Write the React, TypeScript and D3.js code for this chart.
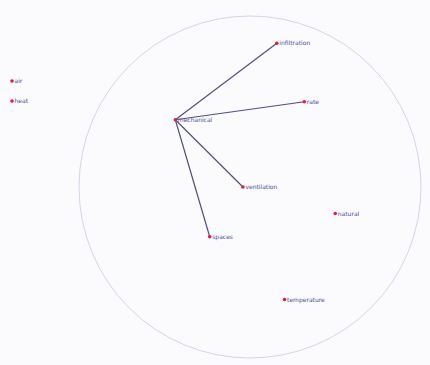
import React from "react";
import * as d3 from "d3";

const nodeNames = ["mechanical", "infiltration", "rate", "ventilation", "spaces", "natural", "temperature"];
const nodeX = [-0.44, 0.15, 0.31, -0.047, -0.24, 0.49, 0.195];
const nodeY = [-0.385, -0.83, -0.49, 0.006, 0.295, 0.16, 0.66];
const linkSources = ["mechanical", "mechanical", "mechanical", "mechanical"];
const linkTargets = ["infiltration", "rate", "ventilation", "spaces"];
const legendLabels = ["air", "heat"];

const W = 430;
const H = 365;
const CX = 251;
const CY = 186;
const R = 172;

export default function App() {
  const x = d3.scaleLinear().domain([-1, 1]).range([CX - R, CX + R]);
  const y = d3.scaleLinear().domain([-1, 1]).range([CY - R, CY + R]);
  const legendY = d3.scalePoint<string>().domain(legendLabels).range([81, 101]);
  const pos = new Map(nodeNames.map((n, i) => [n, [x(nodeX[i]), y(nodeY[i])]]));
  const line = d3.line();
  return (
    <svg
      width={W}
      height={H}
      style={{ position: "absolute", left: 0, top: 0, background: "#fbfbfd" }}
      fontFamily="DejaVu Sans, sans-serif"
    >
      <circle cx={250} cy={187} r={171} fill="none" stroke="#d3d5e8" strokeWidth={1} />
      {linkSources.map((s, i) => (
        <path
          key={i}
          d={line([pos.get(s) as [number, number], pos.get(linkTargets[i]) as [number, number]]) || ""}
          stroke="#50527a"
          strokeWidth={1.2}
          fill="none"
        />
      ))}
      {nodeNames.map((n) => {
        const [px, py] = pos.get(n) as [number, number];
        return (
          <g key={n} transform={`translate(${px},${py})`}>
            <circle r={1.8} fill="#e0203a" />
            <text x={2.5} y={2} fontSize={6} fill="#4a4e9a">
              {n}
            </text>
          </g>
        );
      })}
      {legendLabels.map((l) => (
        <g key={l} transform={`translate(12,${legendY(l)})`}>
          <circle r={1.8} fill="#e0203a" />
          <text x={2.5} y={2} fontSize={6} fill="#4a4e9a">
            {l}
          </text>
        </g>
      ))}
    </svg>
  );
}
